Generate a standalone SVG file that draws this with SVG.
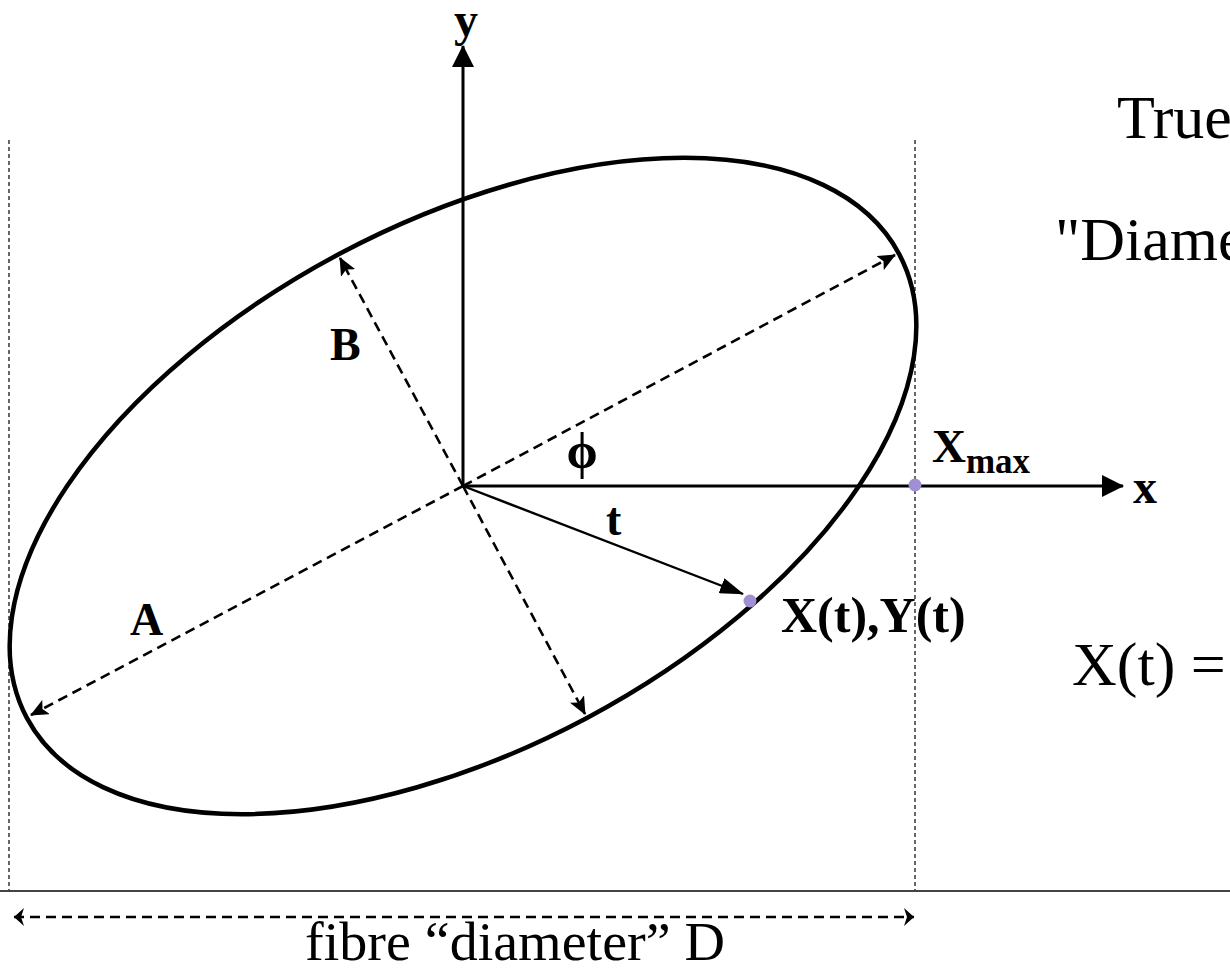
<svg xmlns="http://www.w3.org/2000/svg" width="1230" height="970" viewBox="0 0 1230 970">
<style>
.t{font-family:"Liberation Serif","Times New Roman",serif;fill:#000}
.b{font-weight:bold}
.dash{stroke:#000;stroke-width:2.6;stroke-dasharray:10,6;fill:none}
.dot{stroke:#000;stroke-width:1.2;stroke-dasharray:4,3;fill:none}
.axis{stroke:#000;stroke-width:3;fill:none}
</style>
<defs>
<marker id="tri" markerWidth="22" markerHeight="22" refX="21" refY="11" orient="auto" markerUnits="userSpaceOnUse">
<path d="M0,0 L22,11 L0,22 z" fill="#000"/>
</marker>
<marker id="tarr" markerWidth="24" markerHeight="16" refX="23" refY="8" orient="auto" markerUnits="userSpaceOnUse">
<path d="M0,0 L24,8 L0,16 z" fill="#000"/>
</marker>
<marker id="stl" markerWidth="18" markerHeight="16" refX="17" refY="8" orient="auto-start-reverse" markerUnits="userSpaceOnUse">
<path d="M0,0 L18,8 L0,16 L4,8 z" fill="#000"/>
</marker>
<marker id="chev" markerWidth="12" markerHeight="18" refX="10" refY="9" orient="auto-start-reverse" markerUnits="userSpaceOnUse">
<path d="M0,0 L10,9 L0,18 L3,9 z" fill="#000"/>
</marker>
</defs>

<g id="guides">
<line class="dot" x1="9" y1="140" x2="9" y2="891"/>
<line class="dot" x1="915" y1="140" x2="915" y2="891"/>
<line x1="0" y1="891" x2="1230" y2="891" stroke="#444" stroke-width="2"/>
</g>

<g id="ellipse">
<ellipse cx="463" cy="486" rx="494" ry="263" transform="rotate(-28 463 486)" fill="none" stroke="#000" stroke-width="4.5"/>
</g>

<g id="connectors">
<line class="axis" x1="463" y1="487" x2="463" y2="46" marker-end="url(#tri)"/>
<line class="axis" x1="462" y1="486" x2="1123" y2="486" marker-end="url(#tri)"/>
<line class="dash" x1="463" y1="486" x2="895" y2="255" marker-end="url(#stl)"/>
<line class="dash" x1="463" y1="486" x2="31" y2="715" marker-end="url(#stl)"/>
<line class="dash" x1="463" y1="486" x2="340" y2="258" marker-end="url(#stl)"/>
<line class="dash" x1="463" y1="486" x2="585" y2="714" marker-end="url(#stl)"/>
<line x1="463" y1="486" x2="743" y2="594" stroke="#000" stroke-width="2.4" marker-end="url(#tarr)"/>
<line class="dash" x1="14" y1="917" x2="914" y2="917" stroke-width="3" stroke-dasharray="9,5" marker-start="url(#chev)" marker-end="url(#chev)"/>
</g>

<g id="points">
<circle cx="915" cy="485" r="6.5" fill="#a08fd2"/>
<circle cx="750" cy="601" r="6.5" fill="#a08fd2"/>
</g>

<g id="labels">
<text class="t b" x="466" y="36" font-size="48" text-anchor="middle">y</text>
<text class="t b" x="1133" y="503" font-size="48">x</text>
<text class="t b" x="932" y="462" font-size="47">X<tspan font-size="35" dy="11">max</tspan></text>
<text class="t b" x="781" y="632" font-size="50">X(t),Y(t)</text>
<text class="t b" x="606" y="535" font-size="46">t</text>
<text class="t b" x="582" y="468" font-size="50" text-anchor="middle">ϕ</text>
<text class="t b" x="330" y="360" font-size="46">B</text>
<text class="t b" x="130" y="635" font-size="46">A</text>
<text class="t" x="1117" y="138" font-size="62">True</text>
<text class="t" x="1055" y="260" font-size="62">"Diame</text>
<text class="t" x="1072" y="685" font-size="62">X(t) =</text>
<text class="t" x="305" y="960" font-size="54" textLength="420" lengthAdjust="spacingAndGlyphs">fibre “diameter” D</text>
</g>
</svg>
